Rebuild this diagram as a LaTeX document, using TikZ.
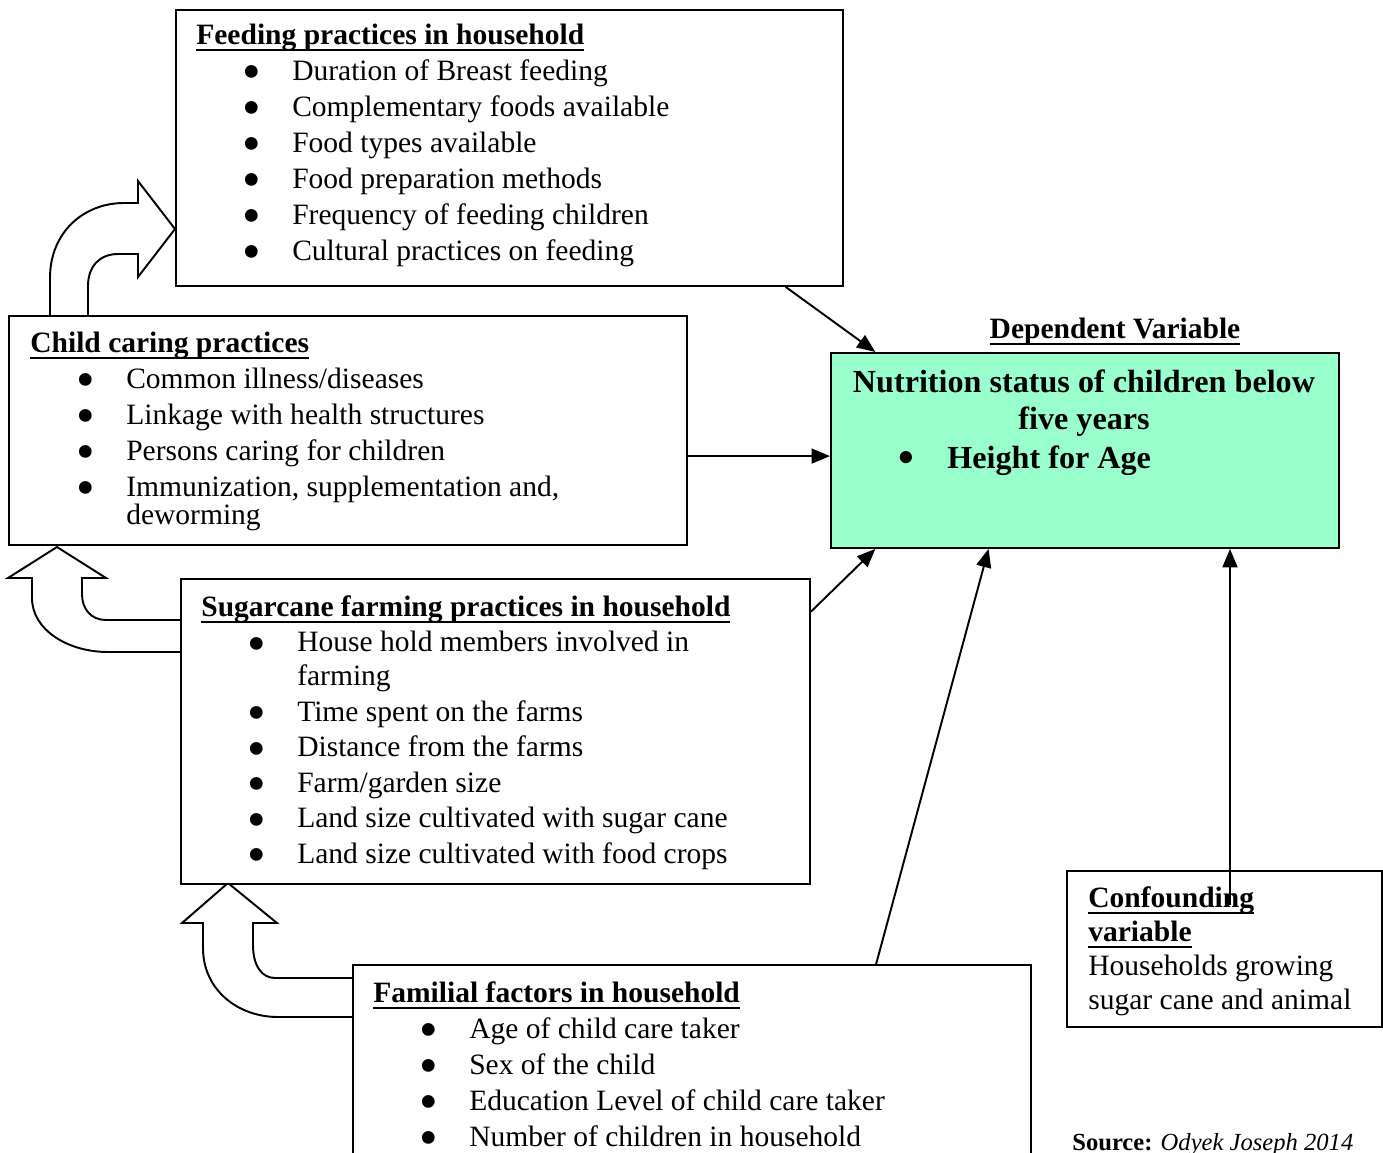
\documentclass[tikz,border=0pt]{standalone}
\usepackage{fontspec}
\usepackage{graphicx}
\setmainfont{Liberation Serif}
\usetikzlibrary{arrows.meta,calc}
\definecolor{frameborder}{HTML}{000000}
\definecolor{framebackground}{HTML}{FFFFFF}
\definecolor{frametext}{HTML}{000000}
\definecolor{outcomebackground}{HTML}{99FFCC}
\newcommand{\headline}[1]{\setbox0\hbox{\textbf{#1}}\rlap{\rule[-3.9pt]{\wd0}{1.2pt}}\box0}
\newcommand{\firstline}{\rule{0pt}{12pt}}
\newcommand{\bigbullet}{\smash{\raisebox{-5.4pt}{\scalebox{1.8}{\textbullet}}}}
\newcommand{\bulletline}[1]{\hspace*{26.2pt}\makebox[28.4pt][l]{\bigbullet}#1}
\newcommand{\wrapline}[1]{\hspace*{54.6pt}#1}
\tikzset{
  frame box/.style={
    rectangle, draw=frameborder, fill=framebackground,
    line width=1.1pt, inner sep=0pt, anchor=north west
  },
  outcome box/.style={frame box, fill=outcomebackground},
  frame text/.style={
    text=frametext, inner sep=0pt, anchor=north west, align=left,
    font=\fontsize{16.8}{20.5}\selectfont
  },
  outcome text/.style={
    frame text, anchor=north, align=center,
    font=\bfseries\fontsize{18.3}{21.4}\selectfont
  },
  source text/.style={frame text, font=\fontsize{14}{17}\selectfont},
  frame arrow/.style={
    draw=frameborder, line width=1.1pt,
    -{Triangle[length=10.5pt,width=8.5pt]}
  },
  frame bend/.style={
    draw=frameborder, fill=framebackground, line width=1.1pt,
    line join=miter
  }
}

\begin{document}
\begin{tikzpicture}[x=0.02cm,y=-0.02cm]
  \useasboundingbox (0,0) rectangle (1383,1153);

  \draw[frame bend] (50,315) -- (50,278) .. controls (50,232) and (84,203) .. (124,203)
    -- (138,203) -- (138,181) -- (175,229) -- (138,277) -- (138,254) -- (118,254)
    .. controls (100,254) and (88,266) .. (88,286) -- (88,315);
  \draw[frame bend] (180,620) -- (106,620) .. controls (91,620) and (82,609) .. (82,594)
    -- (82,578) -- (106,578) -- (57,547) -- (8,578) -- (32,578) -- (32,598)
    .. controls (32,630) and (68,652) .. (108,652) -- (180,652);
  \draw[frame bend] (352,978) -- (275,978) .. controls (262,978) and (253,966) .. (253,945)
    -- (253,923) -- (277,923) -- (228,883) -- (182,923) -- (203,923) -- (203,948)
    .. controls (203,990) and (238,1017) .. (278,1017) -- (352,1017);

  \node[frame box,minimum width=13.34cm,minimum height=5.52cm] (feed) at (175,9) {};
  \node[frame box,minimum width=13.56cm,minimum height=4.58cm] (child) at (8,315) {};
  \node[outcome box,minimum width=10.16cm,minimum height=3.9cm] (nutri) at (830,352) {};
  \node[frame box,minimum width=12.58cm,minimum height=6.1cm] (sugar) at (180,578) {};
  \node[frame box,minimum width=13.56cm,minimum height=5cm] (famil) at (352,964) {};
  \node[frame box,minimum width=6.3cm,minimum height=3.12cm] (confound) at (1066,870) {};

  \node[frame text] (feedtext) at (196,22.9) {\firstline\headline{Feeding practices in household}\\
    \bulletline{Duration of Breast feeding}\\
    \bulletline{Complementary foods available}\\
    \bulletline{Food types available}\\
    \bulletline{Food preparation methods}\\
    \bulletline{Frequency of feeding children}\\
    \bulletline{Cultural practices on feeding}};
  \node[frame text] (childtext) at (30,330.9) {\firstline\headline{Child caring practices}\\
    \bulletline{Common illness/diseases}\\
    \bulletline{Linkage with health structures}\\
    \bulletline{Persons caring for children}\\
    \bulletline{Immunization, supplementation and,}\\[-4.5pt]
    \wrapline{deworming}};
  \node[frame text,font=\fontsize{16.8}{20.2}\selectfont] (sugartext) at (201,594.9) {\firstline\headline{Sugarcane farming practices in household}\\
    \bulletline{House hold members involved in}\\[-0.8pt]
    \wrapline{farming}\\
    \bulletline{Time spent on the farms}\\
    \bulletline{Distance from the farms}\\
    \bulletline{Farm/garden size}\\
    \bulletline{Land size cultivated with sugar cane}\\
    \bulletline{Land size cultivated with food crops}};
  \node[frame text] (familtext) at (373,980.9) {\firstline\headline{Familial factors in household}\\
    \bulletline{Age of child care taker}\\
    \bulletline{Sex of the child}\\
    \bulletline{Education Level of child care taker}\\
    \bulletline{Number of children in household}};
  \node[frame text,font=\fontsize{16.8}{19.3}\selectfont] (confoundtext) at (1088,885.9) {\firstline\headline{Confounding}\\
    \headline{variable}\\
    Households growing\\
    sugar cane and animal};
  \node[outcome text] (nutritext) at (1084,368.9) {\rule{0pt}{13pt}Nutrition status of children below\\
    five years\\[0.8pt]
    \makebox[263.5pt][l]{\hspace*{26pt}\makebox[28pt][l]{\smash{\raisebox{-2.2pt}{\scalebox{1.4}{\textbullet}}}}Height for Age}};
  \node[frame text,anchor=north] (deplabel) at (1115,316.9) {\firstline\headline{Dependent Variable}};
  \node[source text] (source) at (1072,1128.9) {\firstline\textbf{Source:} \textit{Odyek Joseph 2014}};

  \draw[frame arrow] ($(feed.south west)!0.913!(feed.south east)$) -- ($(nutri.north west)!0.089!(nutri.north east)$);
  \coordinate (childout) at ($(child.north east)!0.611!(child.south east)$);
  \draw[frame arrow] (childout) -- (childout -| nutri.west);
  \draw[frame arrow] ($(sugar.north east)!0.11!(sugar.south east)$) -- ($(nutri.south west)!0.089!(nutri.south east)$);
  \draw[frame arrow] ($(famil.north west)!0.771!(famil.north east)$) -- ($(nutri.south west)!0.311!(nutri.south east)$);
  \coordinate (confoundtip) at (1230,905);
  \draw[frame arrow] (confoundtip) -- (confoundtip |- nutri.south);
\end{tikzpicture}
\end{document}
